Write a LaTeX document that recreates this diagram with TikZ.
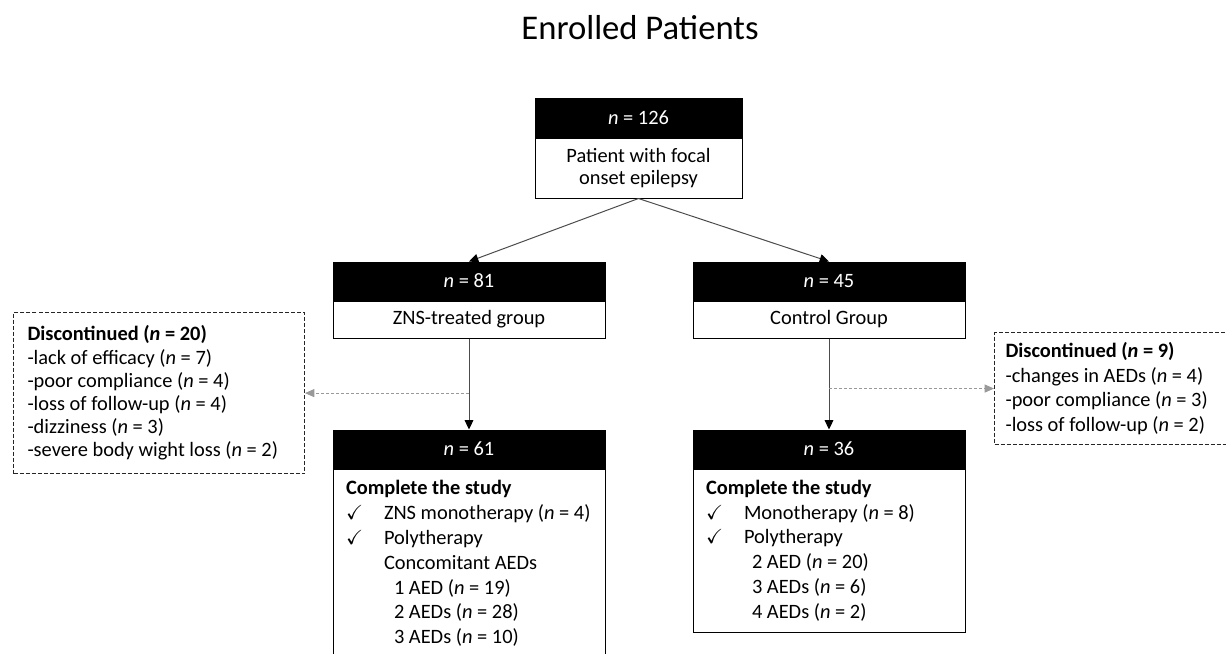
\documentclass[tikz,border=0pt]{standalone}
\usepackage{amssymb}
\usepackage{fontspec}
\setmainfont{Carlito}
\usetikzlibrary{arrows.meta,positioning,calc}
\newcommand{\boxfont}{\fontsize{15.3pt}{18.6pt}\selectfont}
\newcommand{\listfont}{\fontsize{15.3pt}{17.4pt}\selectfont}
\newcommand{\chk}{\makebox[28.5pt][l]{$\checkmark$}}
\newcommand{\nv}{\textit{n}}
\newcommand{\lines}[2]{\parbox{#1}{\raggedright #2}}
\tikzset{
    %Define standard arrow tip
    >={Triangle[length=7pt,width=6.5pt]},
    %Define style for black count bars
    hdr/.style={
           rectangle,
           draw=black, fill=black,
           line width=0.75pt,
           minimum width=204pt,
           minimum height=28.5pt,
           inner sep=0pt,
           text=white,
           font=\boxfont,
           text centered},
    %white box under a bar
    cell/.style={
           rectangle,
           draw=black, fill=white,
           line width=0.75pt,
           minimum width=204pt,
           minimum height=27.75pt,
           inner sep=0pt,
           font=\boxfont,
           align=center},
    listcell/.style={
           rectangle,
           draw=black, fill=white,
           line width=0.75pt,
           inner xsep=9.75pt,
           inner ysep=2pt,
           font=\boxfont},
    %dashed boxes of drop-outs
    outbox/.style={
           rectangle,
           draw=black!85, dash pattern=on 3pt off 1.5pt,
           line width=0.75pt,
           inner ysep=2pt,
           anchor=north west},
    % Define arrow styles
    flow/.style={
           draw=black!70,
           -{Triangle[length=7pt,width=6.5pt,color=black]},
           line width=0.75pt},
    lost/.style={
           -{Triangle[length=7pt,width=6pt]},
           draw=black!40,
           dash pattern=on 2.25pt off 1.5pt,
           line width=0.75pt}
}
\begin{document}
\begin{tikzpicture}[x=0.75pt,y=-0.75pt]
\useasboundingbox (0,0) rectangle (1226,653);

\node[font=\fontsize{26pt}{30pt}\selectfont] (title) at (640,28) {Enrolled Patients};

 %nodes
\node[hdr, minimum width=155.25pt, minimum height=29.25pt] (top) at (638.5,117.5) {\nv{} = 126};
\node[cell, minimum width=155.25pt, minimum height=45pt, below=0pt of top, font=\fontsize{15.3pt}{15.9pt}\selectfont] (topb)
    {Patient with focal\\onset epilepsy};

\node[hdr] (zns) at (469,281) {\nv{} = 81};
\node[cell, below=0pt of zns] (znsb) {ZNS-treated group};

\node[hdr] (ctl) at (829,281) {\nv{} = 45};
\node[cell, below=0pt of ctl] (ctlb) {Control Group};

\node[hdr] (zfin) at (469,449) {\nv{} = 61};
\node[listcell, minimum height=141.75pt, below=0pt of zfin] (zfinb)
    {\lines{184.5pt}{\textbf{Complete the study}\\
     \mbox{\chk ZNS monotherapy (\nv{} = 4)}\\
     \chk Polytherapy\\
     \hspace*{28.5pt}Concomitant AEDs\\
     \hspace*{36pt}1 AED (\nv{} = 19)\\
     \hspace*{36pt}2 AEDs (\nv{} = 28)\\
     \hspace*{36pt}3 AEDs (\nv{} = 10)}};

\node[hdr] (cfin) at (829,449) {\nv{} = 36};
\node[listcell, minimum height=122.25pt, below=0pt of cfin] (cfinb)
    {\lines{184.5pt}{\textbf{Complete the study}\\
     \chk Monotherapy (\nv{} = 8)\\
     \chk Polytherapy\\
     \hspace*{34.5pt}2 AED (\nv{} = 20)\\
     \hspace*{34.5pt}3 AEDs (\nv{} = 6)\\
     \hspace*{34.5pt}4 AEDs (\nv{} = 2)}};

\node[outbox, font=\listfont, inner xsep=10.5pt, minimum height=120.75pt] (outz) at (13,312)
    {\lines{197.25pt}{\textbf{Discontinued (\nv{} = 20)}\\
     -lack of efficacy (\nv{} = 7)\\
     -poor compliance (\nv{} = 4)\\
     -loss of follow-up (\nv{} = 4)\\
     -dizziness (\nv{} = 3)\\
     \mbox{-severe body wight loss (\nv{} = 2)}}};

\node[outbox, font=\boxfont, inner xsep=8.25pt, minimum height=84pt] (outc) at (994,332)
    {\lines{167.25pt}{\textbf{Discontinued (\nv{} = 9)}\\
     -changes in AEDs (\nv{} = 4)\\
     -poor compliance (\nv{} = 3)\\
     -loss of follow-up (\nv{} = 2)}};

\coordinate (sz) at ($(znsb.south)!0.6!(zfin.north)$);
\coordinate (sc) at ($(ctlb.south)!0.55!(cfin.north)$);

 \path[every edge/.style={flow}]
    (topb.south) edge (zns.north) edge (ctl.north)
    (znsb.south) edge (zfin.north)
    (ctlb.south) edge (cfin.north);
 \draw[lost] (sz) -- (sz -| outz.east);
 \draw[lost] (sc) -- (sc -| outc.west);
\end{tikzpicture}
\end{document}
